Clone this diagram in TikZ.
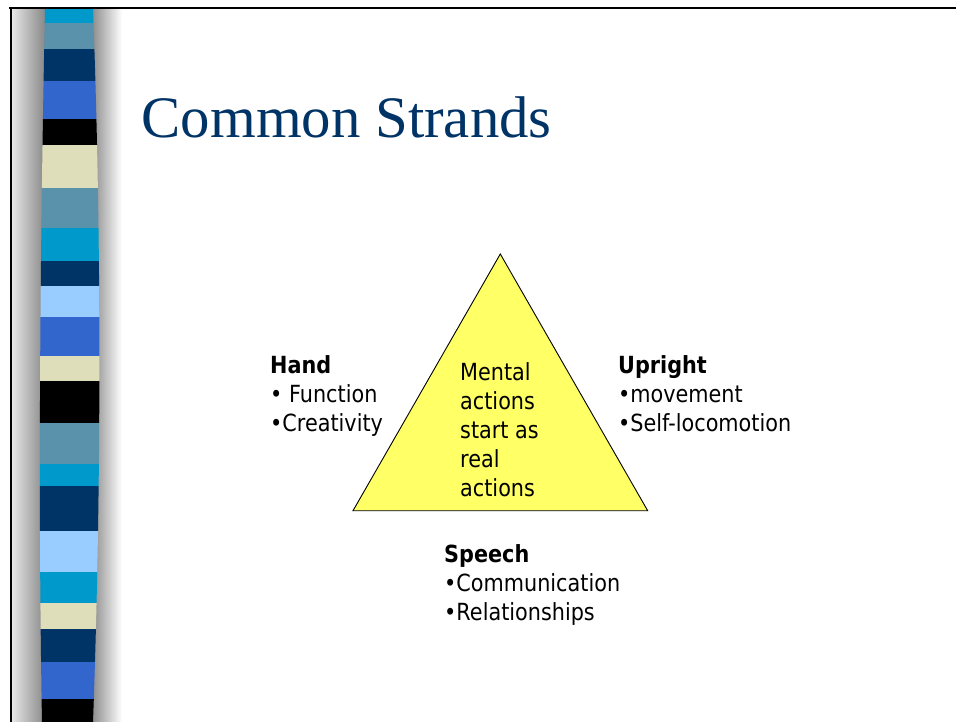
\documentclass[tikz,border=0pt]{standalone}
\usepackage{fontspec}
\usepackage{xcolor}
\usepackage{tikz}
\usetikzlibrary{positioning}
\newfontfamily\titlefont{Liberation Serif}
\newfontfamily\slidefont{DejaVu Sans}[FakeStretch=0.88]
\definecolor{titleblue}{HTML}{003366}
\definecolor{strandyellow}{HTML}{FFFF66}
\definecolor{cyanbar}{HTML}{0099CC}
\definecolor{steelbar}{HTML}{5A91AB}
\definecolor{navybar}{HTML}{003366}
\definecolor{royalbar}{HTML}{3366CC}
\definecolor{beigebar}{HTML}{DEDFBA}
\definecolor{skybar}{HTML}{99CCFF}
\tikzset{
  title/.style={font=\titlefont\fontsize{58.8}{70}\selectfont, text=titleblue, inner sep=0pt, anchor=base west},
  strandtxt/.style={font=\slidefont\fontsize{23.6}{29}\selectfont, align=left, inner sep=0pt, anchor=base west},
  strand/.style={fill=strandyellow, draw=black, line width=0.9pt, line join=miter},
  frame/.style={draw=black, line width=2pt},
}

\begin{document}
\begin{tikzpicture}[x=1pt, y=-1pt]
  \fill[white] (0,0) rectangle (956,722);
  \useasboundingbox (0,0) rectangle (956,722);

  % left bar with shadow
  \shade[left color=black!10, right color=black!50] (12,9) rectangle (48,722);
  \shade[left color=black!45, right color=white] (92,9) rectangle (122,722);
  \begin{scope}
    \clip (45,9) .. controls (40,250) and (38,500) .. (42,722) -- (93,722)
      .. controls (101,500) and (102,250) .. (93,9) -- cycle;
    \foreach \ya/\yb/\col in {9/23/cyanbar, 23/49/steelbar, 49/81/navybar, 81/119/royalbar,
        119/145/black, 145/188/beigebar, 188/228/steelbar, 228/261/cyanbar, 261/286/navybar,
        286/317/skybar, 317/356/royalbar, 356/381/beigebar, 381/423/black, 423/464/steelbar,
        464/486/cyanbar, 486/531/navybar, 531/572/skybar, 572/603/cyanbar, 603/629/beigebar,
        629/662/navybar, 662/699/royalbar, 699/722/black}
      \fill[\col] (30,\ya) rectangle (110,\yb);
  \end{scope}
  \draw[frame] (9,8.5) -- (956,8.5);
  \draw[frame] (10.5,8) -- (10.5,722);

  \node[title] (title) at (141.5,137.7) {Common Strands};

  % triangle
  \coordinate (apex) at (500.3,254);
  \coordinate (baseL) at (353,510.7);
  \coordinate (baseR) at (647.7,510.7);
  \draw[strand] (apex) -- (baseR) -- (baseL) -- cycle;

  % base anchor sits on the last line
  \node[strandtxt] (mental) at (460,496) {Mental\\actions\\start as\\real\\actions};
  \node[strandtxt] (hand) at (270,431) {\textbf{Hand}\\\textbullet\ Function\\\textbullet Creativity};
  \node[strandtxt] (upright) at (618,431) {\textbf{Upright}\\\textbullet movement\\\textbullet Self-locomotion};
  \node[strandtxt] (speech) at (444,620) {\textbf{Speech}\\\textbullet Communication\\\textbullet Relationships};
\end{tikzpicture}
\end{document}
